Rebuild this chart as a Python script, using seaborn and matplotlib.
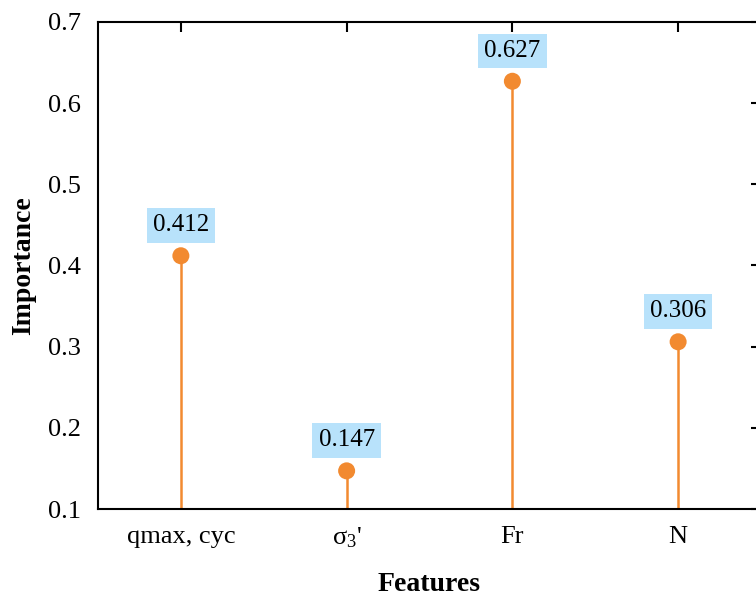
import matplotlib
matplotlib.use("Agg")
import matplotlib.pyplot as plt
import seaborn as sns
import pandas as pd

features = ["qmax, cyc", r"σ$_3$'", "Fr", "N"]
importance = [0.412, 0.147, 0.627, 0.306]
value_labels = ["0.412", "0.147", "0.627", "0.306"]
yticks = [0.1, 0.2, 0.3, 0.4, 0.5, 0.6, 0.7]

sns.set_style("white")
plt.rcParams["font.family"] = ["Liberation Serif", "DejaVu Serif"]
plt.rcParams["mathtext.fontset"] = "custom"
plt.rcParams["mathtext.rm"] = "Liberation Serif"
plt.rcParams["mathtext.it"] = "Liberation Serif:italic"
plt.rcParams["text.color"] = "black"
plt.rcParams["axes.labelcolor"] = "black"

orange = "#f28a30"
boxblue = "#b8e2fb"

df = pd.DataFrame({"pos": range(len(features)), "imp": importance})

fig = plt.figure(figsize=(7.56, 5.99), dpi=100)
ax = fig.add_axes([98 / 756, 90 / 599, (761 - 98) / 756, (509 - 22) / 599])

ax.vlines(df["pos"], 0.1, df["imp"], color=orange, lw=1.8, zorder=2)
sns.scatterplot(data=df, x="pos", y="imp", ax=ax, color=orange, s=150,
                edgecolor="none", zorder=3, legend=False)

for x, y, lab in zip(df["pos"], df["imp"], value_labels):
    ax.annotate(lab, (x, y), xytext=(0, 14), textcoords="offset points",
                ha="center", va="bottom", fontsize=18, color="black",
                bbox=dict(boxstyle="square,pad=0.25", fc=boxblue, ec="none"),
                zorder=4)

ax.set_xlim(-0.5, len(features) - 0.5)
ax.set_ylim(0.1, 0.7)
ax.set_xticks(range(len(features)))
ax.set_xticklabels(features)
ax.set_yticks(yticks)
ax.set_yticklabels([f"{t:.1f}" for t in yticks])

for s in ax.spines.values():
    s.set_visible(True)
    s.set_linewidth(1.5)
    s.set_color("black")

ax.tick_params(axis="both", which="major", direction="out", length=7,
               width=1.5, labelsize=19, pad=5, colors="black")
ax.tick_params(axis="x", which="major", top=True, labeltop=False)
ax.tick_params(axis="y", which="major", right=True, labelright=False)
for t in ax.xaxis.get_major_ticks():
    t.tick2line.set_marker(matplotlib.lines.TICKDOWN)
for t in ax.yaxis.get_major_ticks():
    t.tick2line.set_marker(matplotlib.lines.TICKLEFT)

ax.set_xlabel("Features", fontsize=20, fontweight="bold", labelpad=16,
              color="black")
ax.set_ylabel("Importance", fontsize=20, fontweight="bold", labelpad=9,
              color="black")

fig.savefig("out.png", dpi=100)
